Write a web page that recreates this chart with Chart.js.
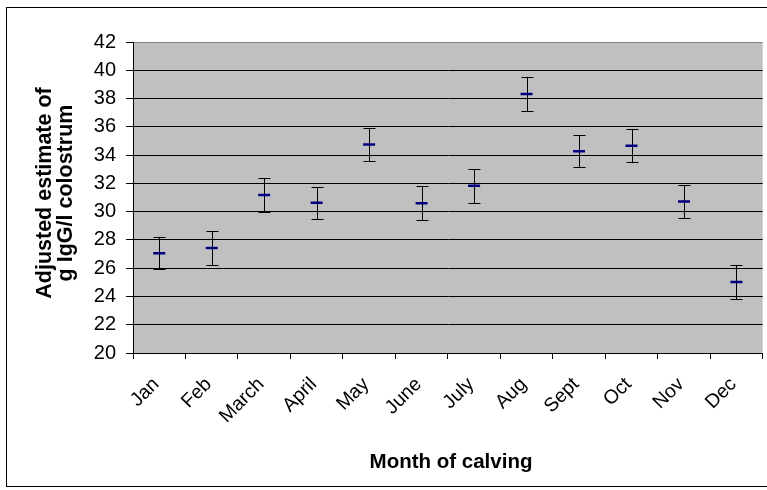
<!DOCTYPE html>
<html>
<head>
<meta charset="utf-8">
<title>IgG in colostrum by month of calving</title>
<script src="https://cdn.jsdelivr.net/npm/chart.js@4.4.1/dist/chart.umd.min.js"></script>
<style>
  html, body { margin: 0; padding: 0; background: #fff; }
  #wrap { width: 767px; height: 490px; }
</style>
</head>
<body>
<div id="wrap"><canvas id="igg" width="767" height="490"></canvas></div>
<script>
// month of calving
let months = ["Jan","Feb","March","April","May","June","July","Aug","Sept","Oct","Nov","Dec"];
// adjusted estimate, g IgG/l
let means = [27.05, 27.43, 31.18, 30.62, 34.75, 30.60, 31.83, 38.32, 34.28, 34.66, 30.72, 25.03];
// +/- standard error
let errors = [1.13, 1.20, 1.19, 1.15, 1.20, 1.20, 1.22, 1.22, 1.15, 1.18, 1.15, 1.19];
let yTicks = [20,22,24,26,28,30,32,34,36,38,40,42];

const FONT = "'Liberation Sans', Arial, sans-serif";

// white page, grey plot area and the outer frame
const frame = {
    id: "frame",
    beforeDraw(chart){
        const c = chart.ctx, a = chart.chartArea;
        c.save();
        c.fillStyle = "#fff";
        c.fillRect(0, 0, chart.width, chart.height);
        c.fillStyle = "#c0c0c0";
        c.fillRect(a.left, a.top, a.right - a.left, a.bottom - a.top);
        c.strokeStyle = "#000";
        c.lineWidth = 1;
        c.strokeRect(6.5, 7.5, chart.width + 10, 479);
        c.restore();
    }
};

// whiskers drawn under the markers
const errorBars = {
    id: "errorBars",
    beforeDatasetsDraw(chart){
        const c = chart.ctx, xs = chart.scales.x, ys = chart.scales.y;
        c.save();
        c.strokeStyle = "#000";
        c.lineWidth = 1;
        means.forEach((m,i)=>{
            const x = Math.round(xs.getPixelForValue(i)) + 0.5;
            const hi = Math.round(ys.getPixelForValue(m + errors[i])) + 0.5;
            const lo = Math.round(ys.getPixelForValue(m - errors[i])) + 0.5;
            c.beginPath();
            c.moveTo(x, hi); c.lineTo(x, lo);
            c.moveTo(x - 6, hi); c.lineTo(x + 6, hi);
            c.moveTo(x - 6, lo); c.lineTo(x + 6, lo);
            c.stroke();
        });
        c.restore();
    }
};

// axis titles
const titles = {
    id: "titles",
    afterDraw(chart){
        const c = chart.ctx;
        c.save();
        c.fillStyle = "#000";
        c.textAlign = "center";
        c.textBaseline = "alphabetic";
        c.font = "bold 20.5px " + FONT;
        c.fillText("Month of calving", 451, 468);
        c.font = "bold 21.5px " + FONT;
        c.translate(0, 193);
        c.rotate(-Math.PI/2);
        c.fillText("Adjusted estimate of", 0, 51);
        c.fillText("g IgG/l colostrum", 0, 72);
        c.restore();
    }
};

const chart = new Chart(document.getElementById("igg"), {
    type: "line",
    data: {
        labels: months,
        datasets: [{
            label: "g IgG/l colostrum",
            data: means,
            showLine: false,
            pointStyle: "line",
            pointRadius: 6,
            pointHoverRadius: 6,
            pointBorderWidth: 2.5,
            pointBorderColor: "#000080",
            pointBackgroundColor: "#000080"
        }]
    },
    options: {
        responsive: false,
        animation: false,
        events: [],
        layout: { autoPadding: false, padding: { top: 42, left: 0, right: 0, bottom: 0 } },
        plugins: { legend: { display: false }, tooltip: { enabled: false } },
        scales: {
            x: {
                type: "category",
                offset: true,
                grid: { offset: true, drawOnChartArea: false, tickLength: 6, tickColor: "#000", color: "#000" },
                border: { color: "#000", width: 1 },
                ticks: {
                    minRotation: 45, maxRotation: 45, autoSkip: false,
                    color: "#000", padding: 14, labelOffset: -3,
                    font: { family: FONT, size: 19.5 }
                },
                afterFit(s){ s.height = 137; }
            },
            y: {
                min: 20, max: 42,
                afterBuildTicks(s){ s.ticks = yTicks.map(v=>({value: v})); },
                grid: {
                    tickLength: 7, tickColor: "#000",
                    color: ctx => ctx.tick && ctx.tick.value === 42 ? "#808080" : "#000"
                },
                border: { color: "#000", width: 1 },
                ticks: {
                    autoSkip: false,
                    color: "#000", padding: 10,
                    font: { family: FONT, size: 20 }
                },
                afterFit(s){ s.width = 133; }
            }
        }
    },
    plugins: [frame, errorBars, titles]
});
</script>
</body>
</html>
